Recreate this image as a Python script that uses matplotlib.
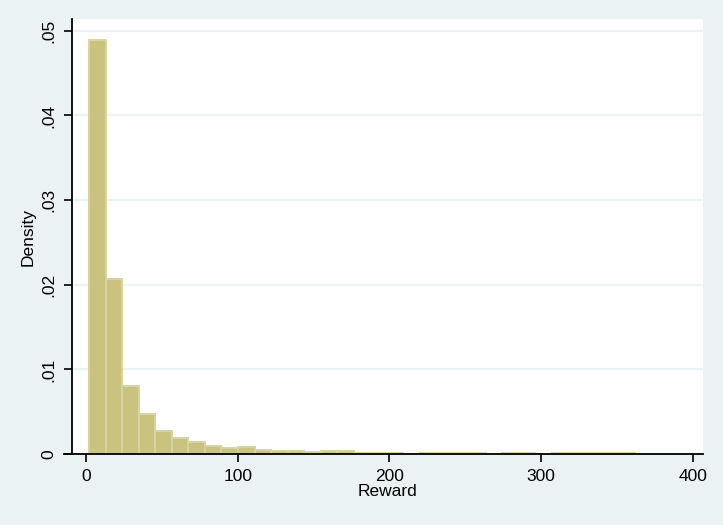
import matplotlib
matplotlib.use("Agg")
import matplotlib.pyplot as plt
from matplotlib.lines import Line2D
import numpy as np

# Histogram data (Stata-style density histogram of Reward)
bin_start = 2.0
bin_width = 10.9
density = [0.0489, 0.0207, 0.0080, 0.0047, 0.0027, 0.0019, 0.0014, 0.00094,
           0.00067, 0.00083, 0.00047, 0.00035, 0.00035, 0.00027, 0.00035, 0.00035,
           0.00012, 0.00012, 0.00012, 0.0, 0.00012, 0.00012, 0.00012, 0.00012,
           0.0, 0.00012, 0.00012, 0.0, 0.00012, 0.00012, 0.00012, 0.00012, 0.00012]
x_ticks = [0, 100, 200, 300, 400]
x_ticklabels = ["0", "100", "200", "300", "400"]
y_ticks = [0, 0.01, 0.02, 0.03, 0.04, 0.05]
y_ticklabels = ["0", ".01", ".02", ".03", ".04", ".05"]

plt.rcParams['font.family'] = ['Liberation Sans', 'DejaVu Sans']

bg = '#EAF2F3'
fill = '#C9C37F'
edge = '#D8D3A2'

fig = plt.figure(figsize=(7.23, 5.25), dpi=100, facecolor=bg)
ax = fig.add_axes([0.0992, 0.1352, 0.9723 - 0.0992, 0.9638 - 0.1352])
ax.set_facecolor('white')

lefts = bin_start + bin_width * np.arange(len(density))
ax.bar(lefts, density, width=bin_width, align='edge', color=fill,
       edgecolor=edge, linewidth=1.4, zorder=3)

ax.set_xlim(-9.6, 406.8)
ax.set_ylim(0, 0.0514)

ax.set_xticks(x_ticks)
ax.set_xticklabels(x_ticklabels)
ax.set_yticks(y_ticks)
ax.set_yticklabels(y_ticklabels, rotation=90, va='center')

for y in y_ticks[1:]:
    ax.axhline(y, color=bg, linewidth=1.6, zorder=1)

for s in ['top', 'right']:
    ax.spines[s].set_visible(False)
for s in ['left', 'bottom']:
    ax.spines[s].set_color('black')
    ax.spines[s].set_linewidth(1.3)
ax.spines['bottom'].set_zorder(5)

# x-axis line extends slightly left of the y axis (Stata style)
ax.add_line(Line2D([-0.013, 0.0], [0, 0], transform=ax.transAxes, color='black',
                   linewidth=1.3, clip_on=False, zorder=5))

ax.tick_params(axis='both', direction='out', length=6, width=1.2, colors='black',
               labelsize=12.5, pad=5)

ax.set_xlabel('Reward', fontsize=12.5, labelpad=0)
ax.set_ylabel('Density', fontsize=12.5, labelpad=4)

fig.savefig('out.png', dpi=100, facecolor=bg)
